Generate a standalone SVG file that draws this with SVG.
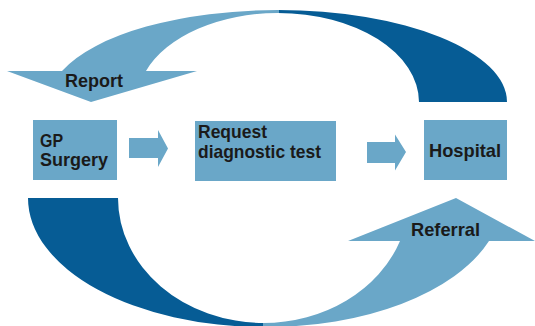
<svg xmlns="http://www.w3.org/2000/svg" width="535" height="326" viewBox="0 0 535 326">
  <style>
    .light { fill: #6aa7c8; }
    .dark { fill: #065c95; }
    .box { fill: #6aa7c8; }
    .lbl { font-family: "Liberation Sans", Arial, sans-serif; font-weight: bold; font-size: 19px; fill: #1a1a1a; }
  </style>
  <rect x="0" y="0" width="535" height="326" fill="#ffffff"/>
  <g id="connectors">
    <!-- top curved arrow: Hospital to GP Surgery (Report) -->
    <path class="dark" d="M 278,10 A 229 92 0 0 1 507,102 L 419,102 A 141 89 0 0 0 278,13 Z"/>
    <path class="light" d="M 279,10 A 229 92 0 0 0 62,71 L 7,71 L 91,102 L 197,71 L 146,71 A 141 89 0 0 1 279,13 Z"/>
    <text class="lbl" x="65" y="87" font-size="18" textLength="58" lengthAdjust="spacingAndGlyphs">Report</text>
    <!-- bottom curved arrow: GP Surgery to Hospital (Referral) -->
    <path class="dark" d="M 28,198 L 118,198 A 146 125 0 0 0 264,323 L 264,327 A 236 129 0 0 1 28,198 Z"/>
    <path class="light" d="M 263,327 A 236 129 0 0 0 489,241 L 535,241 L 456,198 L 348,241 L 400,241 A 146 125 0 0 1 263,323 Z"/>
    <text class="lbl" x="411" y="236" font-size="18" textLength="69" lengthAdjust="spacingAndGlyphs">Referral</text>
    <!-- straight arrows -->
    <path class="light" d="M 129,138 L 158,138 L 158,130 L 168,148.5 L 158,167 L 158,158 L 129,158 Z"/>
    <path class="light" d="M 367,142 L 395,142 L 395,134.5 L 406,152 L 395,170.5 L 395,163 L 367,163 Z"/>
  </g>
  <g id="gp-surgery">
    <rect class="box" x="33" y="120" width="84" height="60"/>
    <text class="lbl" x="40" y="147" textLength="23" lengthAdjust="spacingAndGlyphs">GP</text>
    <text class="lbl" x="40" y="166" textLength="68" lengthAdjust="spacingAndGlyphs">Surgery</text>
  </g>
  <g id="request-test">
    <rect class="box" x="195" y="121" width="141" height="60"/>
    <text class="lbl" x="198" y="138" font-size="17.5" textLength="69" lengthAdjust="spacingAndGlyphs">Request</text>
    <text class="lbl" x="198" y="158" font-size="17.5" textLength="123" lengthAdjust="spacingAndGlyphs">diagnostic test</text>
  </g>
  <g id="hospital">
    <rect class="box" x="424" y="120" width="83" height="60"/>
    <text class="lbl" x="429" y="157" textLength="72" lengthAdjust="spacingAndGlyphs">Hospital</text>
  </g>
</svg>
